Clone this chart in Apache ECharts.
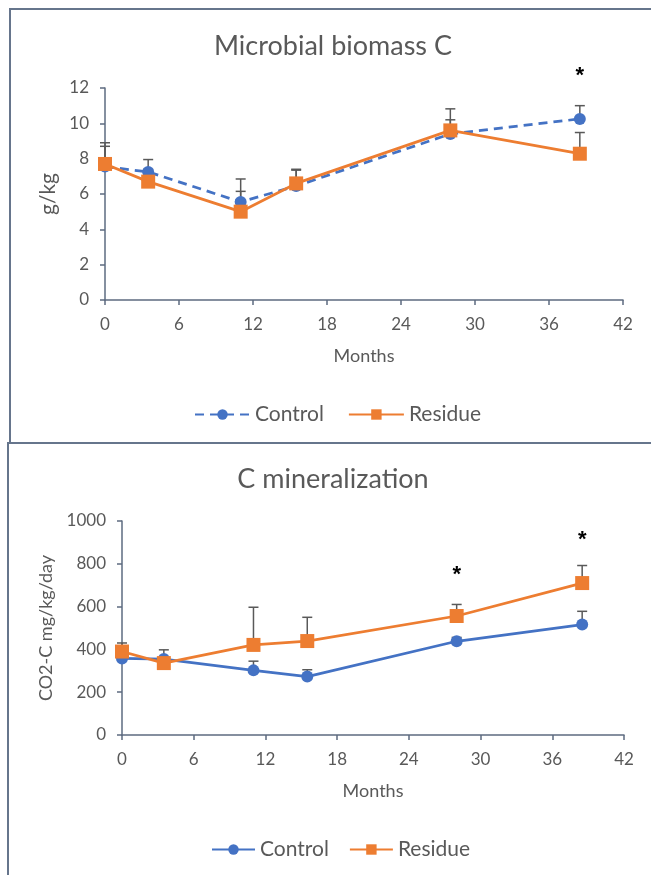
<!DOCTYPE html>
<html>
<head>
<meta charset="utf-8">
<script src="https://cdn.jsdelivr.net/npm/echarts@6/dist/echarts.min.js"></script>
<style>
    body { margin: 0; width: 651px; height: 875px; overflow: hidden; background: #fff; position: relative; }
    .chart { position: absolute; left: 0; width: 651px; }
    .frame { position: absolute; border: 2px solid #66758c; border-right: none; pointer-events: none; }
</style>
</head>
<body>
<div class="chart" id="topChart" style="top:0; height:441px;"></div>
<div class="chart" id="bottomChart" style="top:441px; height:434px;"></div>
<div class="frame" style="left:9px; top:8px; width:660px; height:434px; border-bottom:none;"></div>
<div class="frame" style="left:7px; top:442px; width:660px; height:460px;"></div>

<script>
// 数据
var months = [0, 3.5, 11, 15.5, 28, 38.5];
var xTicks = [0, 6, 12, 18, 24, 30, 36, 42];

// Microbial biomass C (g/kg)
var mbcControl = [7.55, 7.25, 5.55, 6.45, 9.4, 10.25];
var mbcControlErr = [1.35, 0.7, 1.3, 0.95, 0.8, 0.75];
var mbcResidue = [7.7, 6.7, 5.0, 6.6, 9.6, 8.28];
var mbcResidueErr = [1.0, 0.7, 1.15, 0.75, 1.22, 1.2];
var mbcStars = [[38.5, 12.9]];

// C mineralization (CO2-C mg/kg/day)
var minControl = [358, 355, 302, 273, 438, 516];
var minControlErr = [40, 43, 43, 32, 18, 62];
var minResidue = [390, 336, 421, 439, 556, 710];
var minResidueErr = [40, 20, 176, 111, 54, 82];
var minStars = [[28, 765], [38.5, 928]];

var blue = '#4472c4';
var orange = '#ed7d31';
var grey = '#595959';
var axisColor = '#5d6b80';
var font = 'Lato, "Noto Sans", sans-serif';

function pairs(xs, ys) {
    return xs.map(function (x, i) { return [x, ys[i]]; });
}

// 误差线
function errorBars(ys, errs) {
    return {
        type: 'custom',
        z: 1,
        silent: true,
        data: months.map(function (x, i) { return [x, ys[i], ys[i] + errs[i]]; }),
        renderItem: function (params, api) {
            var p0 = api.coord([api.value(0), api.value(1)]);
            var p1 = api.coord([api.value(0), api.value(2)]);
            var st = { stroke: grey, lineWidth: 1.5 };
            return {
                type: 'group',
                children: [
                    { type: 'line', shape: { x1: p0[0], y1: p0[1], x2: p1[0], y2: p1[1] }, style: st },
                    { type: 'line', shape: { x1: p1[0] - 5, y1: p1[1], x2: p1[0] + 5, y2: p1[1] }, style: st }
                ]
            };
        }
    };
}

// 显著性星号
function stars(data) {
    return {
        type: 'custom',
        z: 4,
        silent: true,
        clip: false,
        data: data,
        renderItem: function (params, api) {
            var p = api.coord([api.value(0), api.value(1)]);
            return {
                type: 'text',
                x: p[0],
                y: p[1] + 4,
                style: {
                    text: '*',
                    fill: '#000',
                    font: 'bold 22px "Liberation Sans"',
                    align: 'center',
                    verticalAlign: 'middle'
                }
            };
        }
    };
}

function makeOption(cfg) {
    return {
        animation: false,
        textStyle: { fontFamily: font },
        title: {
            text: cfg.title,
            left: 328,
            textAlign: 'center',
            top: cfg.titleTop,
            textStyle: { fontFamily: font, fontSize: 27, fontWeight: 'normal', color: grey }
        },
        legend: {
            data: ['Control', 'Residue'],
            left: cfg.legendLeft,
            top: cfg.legendTop,
            itemWidth: cfg.legendIconWidth,
            itemHeight: 13,
            itemGap: cfg.legendGap,
            textStyle: { fontFamily: font, fontSize: 21, color: grey }
        },
        grid: cfg.grid,
        xAxis: {
            type: 'value',
            min: 0,
            max: 42,
            interval: 6,
            name: 'Months',
            nameLocation: 'middle',
            nameGap: 47,
            nameTextStyle: { fontFamily: font, fontSize: 18, color: grey },
            axisLine: { show: true, lineStyle: { color: axisColor, width: 1.5 } },
            axisTick: { show: true, inside: false, length: 5, lineStyle: { color: axisColor, width: 1.5 } },
            axisLabel: { fontFamily: font, fontSize: 17, color: grey, margin: 16 },
            splitLine: { show: false }
        },
        yAxis: {
            type: 'value',
            min: 0,
            max: cfg.yMax,
            interval: cfg.yInterval,
            name: cfg.yName,
            nameLocation: 'middle',
            nameGap: cfg.yNameGap,
            nameTextStyle: { fontFamily: font, fontSize: cfg.yNameSize, color: grey },
            axisLine: { show: true, lineStyle: { color: axisColor, width: 1.5 } },
            axisTick: { show: true, inside: false, length: 5, lineStyle: { color: axisColor, width: 1.5 } },
            axisLabel: { fontFamily: font, fontSize: 17, color: grey, margin: 16, formatter: function (v) { return String(v); } },
            splitLine: { show: false }
        },
        series: [
            errorBars(cfg.control, cfg.controlErr),
            errorBars(cfg.residue, cfg.residueErr),
            {
                name: 'Control',
                type: 'line',
                z: 2,
                data: pairs(months, cfg.control),
                symbol: 'circle',
                symbolSize: 12,
                lineStyle: { color: blue, width: 2.75, type: cfg.controlDash },
                itemStyle: { color: blue }
            },
            {
                name: 'Residue',
                type: 'line',
                z: 3,
                data: pairs(months, cfg.residue),
                symbol: 'rect',
                symbolSize: 14,
                lineStyle: { color: orange, width: 2.75 },
                itemStyle: { color: orange }
            },
            stars(cfg.stars)
        ]
    };
}

var topChart = echarts.init(document.getElementById('topChart'));
topChart.setOption(makeOption({
    title: 'Microbial biomass C',
    titleTop: 28,
    legendLeft: 189,
    legendTop: 399,
    legendIconWidth: 55,
    legendGap: 24,
    grid: { left: 105, right: 28, top: 88, bottom: 141 },
    yMax: 12,
    yInterval: 2,
    yName: 'g/kg',
    yNameSize: 21,
    yNameGap: 40,
    control: mbcControl,
    controlErr: mbcControlErr,
    controlDash: [9, 6],
    residue: mbcResidue,
    residueErr: mbcResidueErr,
    stars: mbcStars
}));

var bottomChart = echarts.init(document.getElementById('bottomChart'));
bottomChart.setOption(makeOption({
    title: 'C mineralization',
    titleTop: 20,
    legendLeft: 206,
    legendTop: 393,
    legendIconWidth: 43,
    legendGap: 20,
    grid: { left: 122, right: 27, top: 80, bottom: 140 },
    yMax: 1000,
    yInterval: 200,
    yName: 'CO2-C mg/kg/day',
    yNameSize: 18,
    yNameGap: 66,
    control: minControl,
    controlErr: minControlErr,
    controlDash: 'solid',
    residue: minResidue,
    residueErr: minResidueErr,
    stars: minStars
}));
</script>
</body>
</html>
